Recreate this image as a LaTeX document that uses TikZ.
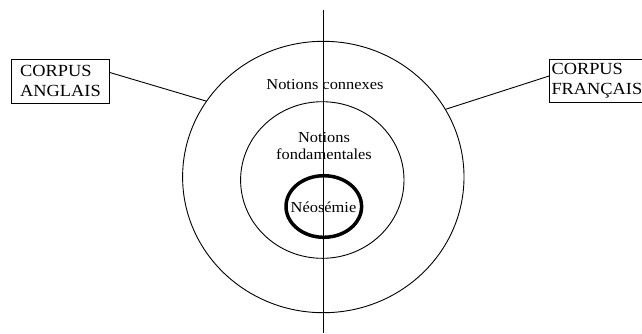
\documentclass[tikz,border=0pt]{standalone}
\usepackage{fontspec}
\setmainfont[FakeStretch=1.08]{Liberation Serif}
\usetikzlibrary{shapes.geometric,calc}
\begin{document}
\begin{tikzpicture}[x=1pt,y=-1pt,
  ring/.style={draw,ellipse,line width=0.9pt,inner sep=0pt,outer sep=0pt},
  corpus/.style={draw,line width=0.9pt,align=left,font=\fontsize{17}{20}\selectfont,inner sep=0pt,outer sep=0pt},
  lbl/.style={align=center,font=\fontsize{15.2}{17.5}\selectfont,inner sep=0pt},
  axis/.style={line width=0.8pt},
  link/.style={line width=0.9pt}]
\useasboundingbox (0,0) rectangle (642,333);
\node[ring,minimum width=281.4pt,minimum height=271.4pt] (outer) at (323.3,177) {};
\node[ring,minimum width=163.4pt,minimum height=156.6pt] (middle) at (322.3,180) {};
\node[ring,line width=3.5pt,minimum width=75.6pt,minimum height=61.6pt] (core) at (323.8,206.5) {};
\node[lbl] (connexes) at (325,85) {Notions connexes};
\node[lbl] (fond) at (324,146) {Notions\\fondamentales};
\node[lbl] (neo) at (323.5,207) {Néosémie};
\coordinate (top) at (323.3,10);
\coordinate (bot) at (323.3,333);
\draw[axis] (top) -- (bot);
\node[corpus,minimum width=97.6pt,minimum height=44.3pt] (en) at (60.5,81.2) {CORPUS\\ANGLAIS};
\node[corpus,anchor=north west,text width=98pt,inner xsep=2.5pt,minimum height=43.7pt] (fr) at (549,59) {CORPUS\\FRANÇAIS};
\draw[link] ($(en.north east)!0.3!(en.south east)$) -- (outer.147.9);
\draw[link] ($(fr.north west)!0.39!(fr.south west)$) -- (outer.29.7);
\end{tikzpicture}
\end{document}
